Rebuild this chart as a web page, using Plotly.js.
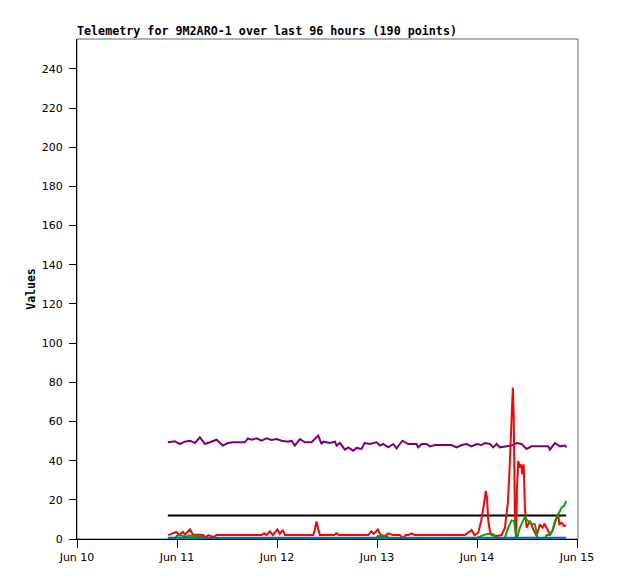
<!DOCTYPE html>
<html>
<head>
<meta charset="utf-8">
<script src="https://cdn.plot.ly/plotly-3.0.1.min.js"></script>
<style>html,body{margin:0;padding:0;background:#fff;}#chart{width:618px;height:579px;}</style>
</head>
<body>
<div id="chart"></div>
<script>
// times are hours after Jun 10 00:00
const purpleHours = [21.8,23.5,24.7,25.9,27.1,28.3,29.5,30.7,31.9,33.5,35.0,36.2,37.4,40.3,41.0,41.9,43.1,44.3,45.5,46.7,47.9,49.1,50.7,51.5,52.3,53.5,54.7,56.3,57.9,58.7,59.1,60.7,61.9,62.3,63.1,64.3,65.1,66.3,67.1,68.3,69.0,69.9,70.3,71.9,72.7,73.5,74.7,75.9,76.7,78.1,79.5,81.5,81.9,82.7,83.9,84.7,85.9,88.3,89.9,91.1,92.3,93.5,94.7,95.9,97.1,97.9,99.1,99.9,100.7,101.5,102.7,104.3,105.5,106.7,107.9,109.1,111.5,113.1,113.5,114.7,115.9,117.1,117.5];
const purpleValues = [49.4,49.9,48.5,49.7,50.2,49.0,51.9,48.5,49.4,50.7,47.7,49.0,49.4,49.4,51.4,50.7,51.4,50.2,51.4,50.6,51.0,50.2,49.7,50.2,47.7,51.0,49.4,49.4,52.8,48.5,49.7,49.0,49.7,47.7,49.0,45.6,46.8,45.1,46.5,46.0,49.0,48.5,48.5,49.4,47.7,48.5,46.8,48.5,46.3,50.2,48.5,48.5,46.8,48.5,48.5,47.3,48.0,48.0,48.0,46.8,48.0,48.5,47.3,48.5,48.0,49.0,48.5,46.8,48.5,46.8,47.3,47.7,49.0,48.5,46.0,47.3,47.3,47.3,45.6,49.0,47.3,47.7,46.8];

const redHours = [21.9,23.8,24.6,25.4,25.9,27.1,27.8,30.2,31.0,31.5,32.7,33.5,44.3,44.9,45.5,46.3,47.0,48.1,48.7,49.4,49.9,56.7,57.0,57.5,57.9,58.3,61.7,62.3,62.9,69.9,70.6,71.2,72.2,72.9,73.9,74.7,75.9,77.5,78.3,78.9,79.5,80.3,81.1,93.1,94.7,95.4,96.3,97.0,97.8,98.1,98.4,98.7,99.1,99.5,100.7,101.9,102.7,103.4,103.8,104.2,104.6,104.8,105.1,105.4,105.6,105.9,106.3,106.6,106.9,107.2,107.5,107.9,108.7,109.5,110.3,111.1,111.7,112.2,112.7,113.5,114.1,114.7,115.4,115.8,116.3,116.9,117.4];
const redValues = [2,3.6,2,3.6,2.3,4.9,2.3,2,1,2,1,2,2,2.9,2,3.9,2,4.9,2.6,4.6,2,2,4.1,8.9,4.9,2,2,2.9,2,2,3.9,2.6,4.9,2,1.5,2.9,2,2,0.5,2,2,2.9,2,2,4.6,2,3.2,9.2,19.4,24.5,21.1,9.2,4.1,2,1.5,2,5.8,18.5,34.7,55,77.3,63.7,12.6,0.7,26.2,39.8,36.4,38.1,33,38.1,16,5.8,9.2,4.9,1.5,7.5,5.8,7.8,5.8,2.4,4.1,8.3,12.9,7.5,8.3,6.6,7.1];

const greenHours = [21.8,23.5,23.9,24.7,25.9,27.1,28.3,29.5,30.2,30.7,71.8,72.2,74.4,74.9,95.8,96.2,97.5,98.7,99.9,100.7,102.2,102.7,103.5,104.3,104.9,105.3,105.5,106.3,107.4,108.3,109.1,109.9,110.3,110.6,112.3,112.7,113.5,114.1,114.7,115.5,116.3,116.9,117.4];
const greenValues = [0,0,1.5,2,1.2,1.8,1.5,1.5,1.2,0,0,1.5,1.5,0,0,0.7,2,2.7,2.4,0,0,0.7,5.8,9.5,9.2,2.4,0,5.8,10.9,9.2,7.8,7.5,2.4,0,0,2,2,4.1,9.2,12.6,16,16.9,19.4];

const blackHours = [21.8,117.4];
const blackValues = [12,12];
const blueHours = [21.8,117.4];
const blueValues = [0.6,0.6];

const yTicks = [0,20,40,60,80,100,120,140,160,180,200,220,240];

function toDate(h){
  const base = Date.UTC(2024,5,10,0,0,0);
  const d = new Date(base + h*3600000);
  return d.toISOString().replace('T',' ').slice(0,19);
}
function tr(hours, values, color){
  return {x: hours.map(toDate), y: values, type:'scatter', mode:'lines',
          line:{color: color, width:2}, hoverinfo:'skip', showlegend:false};
}

const data = [
  tr(purpleHours, purpleValues, '#7a007a'),
  tr(blackHours, blackValues, '#000000'),
  tr(redHours, redValues, '#ff0000'),
  tr(greenHours, greenValues, '#00a800'),
  tr(blueHours, blueValues, '#0066cc')
];

const layout = {
  width:618, height:579,
  margin:{l:77, r:40, t:39, b:40, pad:0},
  paper_bgcolor:'#ffffff', plot_bgcolor:'#ffffff',
  showlegend:false,
  title:{text:'Telemetry for 9M2ARO-1 over last 96 hours (190 points)',
         font:{family:'DejaVu Sans Mono', size:11.7, color:'#000', weight:'bold'},
         x:77/618, xanchor:'left', xref:'container', y:1-31/579, yref:'container', yanchor:'middle'},
  xaxis:{type:'date', range:[toDate(0), toDate(120.24)], dtick:86400000, tick0:toDate(0),
         tickformat:'%b %d', showgrid:false, zeroline:false, showline:true, linecolor:'#000', linewidth:1,
         ticks:'outside', ticklen:8, tickcolor:'#000', tickwidth:1,
         tickfont:{family:'DejaVu Sans', size:11, color:'#000'}},
  yaxis:{range:[0,255.3], tickvals:yTicks, ticktext:yTicks.map(String), showgrid:false, zeroline:false,
         showline:true, linecolor:'#000', linewidth:1, ticks:'outside', ticklen:7, tickcolor:'#000', tickwidth:1,
         ticklabelstandoff:4,
         tickfont:{family:'DejaVu Sans', size:11, color:'#000'},
         title:{text:'Values', font:{family:'DejaVu Sans Mono', size:11.5, color:'#000', weight:'bold'}, standoff:3}},
  shapes:[{type:'rect', xref:'paper', yref:'paper', x0:0, x1:1, y0:0, y1:1,
           line:{color:'#666666', width:1}, fillcolor:'rgba(0,0,0,0)', layer:'below'}]
};

Plotly.newPlot('chart', data, layout, {staticPlot:true, displayModeBar:false});
</script>
</body>
</html>
